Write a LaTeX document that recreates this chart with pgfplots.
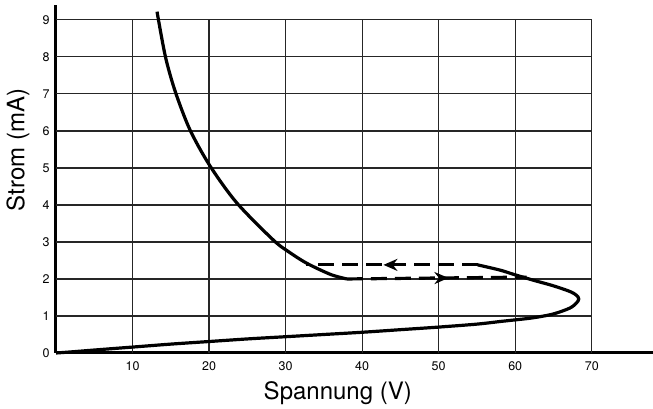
\documentclass[border=0pt]{standalone}
\usepackage{fontspec}
\setmainfont{TeX Gyre Heros}
\usepackage{pgfplots}
\pgfplotsset{compat=1.18}
\usetikzlibrary{arrows.meta,decorations.markings}

\pgfplotstableread{
x y
0 0
2 0.03
5 0.08
10 0.16
15 0.24
20 0.31
25 0.38
30 0.44
35 0.50
40 0.56
45 0.63
50 0.70
55 0.78
58 0.85
60 0.895
62.3 0.95
64.9 1.05
67.1 1.21
68.0 1.35
68.3 1.46
68.0 1.56
67.1 1.665
64.9 1.82
62.3 1.97
59.7 2.13
58.0 2.24
55.1 2.38
}\lowerbranch

\pgfplotstableread{
x y
13.2 9.22
14.3 8.0
15.6 7.05
17.5 6.03
20.1 5.06
23.6 4.06
28.4 3.05
30.5 2.72
32.8 2.42
35.9 2.12
38.0 2.00
}\upperbranch

\pgfplotstableread{
x y
55.1 2.38
32.7 2.38
}\dashback

\pgfplotstableread{
x y
38.0 2.00
61.5 2.05
}\dashfwd

\begin{document}
\begin{tikzpicture}
\begin{axis}[
  scale only axis,
  width=597pt, height=348pt,
  xmin=0, xmax=78.0,
  ymin=0, ymax=9.4,
  axis lines=left,
  axis line style={-, line width=3pt},
  xtick={10,20,...,70},
  ytick={0,1,...,9},
  major tick length=0pt,
  /pgf/number format/assume math mode=true,
  tick label style={font=\fontsize{12.5}{13}\selectfont},
  xticklabel style={yshift=-5pt},
  yticklabel style={xshift=-3pt},
  xlabel={Spannung (V)},
  ylabel={Strom (mA)},
  every axis x label/.style={at={(axis description cs:0.472,0)}, anchor=center, yshift=-40pt, font=\fontsize{24}{26}\selectfont},
  every axis y label/.style={at={(axis description cs:0,0.583)}, xshift=-38pt, anchor=center, rotate=90, font=\fontsize{24}{26}\selectfont},
  clip=false,
]
\foreach \gx in {10,20,...,70} {
  \edef\temp{\noexpand\draw[line width=1.3pt, black!85] (axis cs:\gx,0) -- (axis cs:\gx,9);}
  \temp
}
\foreach \gy in {1,...,9} {
  \edef\temp{\noexpand\draw[line width=1.3pt, black!85] (axis cs:0,\gy) -- (axis cs:70,\gy);}
  \temp
}
\addplot[line width=3.2pt, black, smooth, tension=0.5] table {\lowerbranch};
\addplot[line width=3.2pt, black, smooth, tension=0.5] table {\upperbranch};
\addplot[line width=3.2pt, black, dash pattern=on 16pt off 8pt,
  postaction={decorate},
  decoration={markings, mark=at position 0.55 with {\arrow[solid]{Stealth[length=14pt,width=12pt]}}}] table {\dashback};
\addplot[line width=3.2pt, black, dash pattern=on 16pt off 8pt,
  postaction={decorate},
  decoration={markings, mark=at position 0.565 with {\arrow[solid]{Stealth[length=14pt,width=12pt]}}}] table {\dashfwd};
\end{axis}
\pgfresetboundingbox
\path (-56pt,-56pt) rectangle (597pt,353pt);
\end{tikzpicture}
\end{document}
